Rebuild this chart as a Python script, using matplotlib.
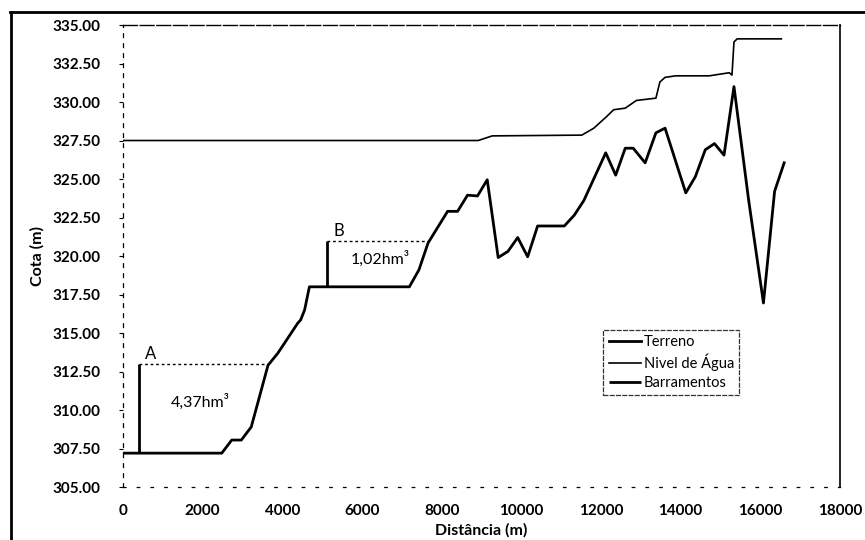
import numpy as np
import matplotlib.pyplot as plt
from matplotlib.lines import Line2D

# perfil longitudinal - terreno
terreno_x = [0, 2480, 2730, 2970, 3220, 3640, 3890, 4390, 4460, 4560, 4680, 7190, 7430, 7660,
             8150, 8400, 8650, 8900, 9145, 9420, 9665, 9910, 10160, 10410, 11080, 11330, 11570,
             12120, 12370, 12610, 12810, 13110, 13380, 13610, 14130, 14370, 14620, 14850, 15090,
             15340, 15710, 16080, 16360, 16600]
terreno_y = [307.2, 307.2, 308.05, 308.05, 308.9, 312.9, 313.7, 315.65, 315.85, 316.5, 318.0, 318.0,
             319.1, 320.85, 322.9, 322.9, 323.95, 323.9, 324.95, 319.9, 320.3, 321.2, 319.95, 321.95,
             321.95, 322.65, 323.6, 326.7, 325.25, 327.0, 327.0, 326.05, 328.0, 328.3, 324.1, 325.15,
             326.9, 327.3, 326.55, 331.0, 323.6, 316.95, 324.2, 326.05]

# nivel de agua
agua_x = [0, 8920, 9270, 11520, 11820, 12120, 12320, 12610, 12890, 13380, 13480, 13610, 13880,
          14720, 15220, 15290, 15340, 15420, 16530]
agua_y = [327.5, 327.5, 327.8, 327.85, 328.3, 329.0, 329.5, 329.6, 330.1, 330.25, 331.3, 331.6,
          331.7, 331.7, 331.9, 331.75, 333.9, 334.1, 334.1]

# barramentos A e B
barr_nome = ['A', 'B']
barr_x = [400, 5130]
barr_base = [307.2, 318.0]
barr_topo = [313.0, 321.0]
barr_fim = [3650, 7680]
barr_vol = ['4,37hm³', '1,02hm³']

xticks = np.arange(0, 18001, 2000)
yticks = np.arange(305, 335.01, 2.5)

plt.rcParams['font.family'] = ['Lato', 'DejaVu Sans']

fig = plt.figure(figsize=(8.65, 5.4), dpi=100)
ax = fig.add_axes([0.1422, 0.0981, 0.971 - 0.1422, 0.9537 - 0.0981])

ax.plot(terreno_x, terreno_y, color='black', lw=2.0, label='Terreno')
ax.plot(agua_x, agua_y, color='black', lw=1.2, label='Nivel de Água')
ax.vlines(barr_x, barr_base, barr_topo, colors='black', lw=2.0, label='Barramentos')

for n, x0, t, x1, v in zip(barr_nome, barr_x, barr_topo, barr_fim, barr_vol):
    ax.plot([x0, x1], [t, t], color='black', lw=1.0, ls=(0, (2, 2)))
    ax.text(x0 + 150, t + 0.1, n, fontsize=12, va='bottom', ha='left')

ax.text(1950, 310.5, barr_vol[0], fontsize=11.5, ha='center', va='center')
ax.text(6450, 319.8, barr_vol[1], fontsize=11.5, ha='center', va='center')

ax.set_xlim(0, 18000)
ax.set_ylim(305, 335)
ax.set_xticks(xticks)
ax.set_yticks(yticks)
ax.set_yticklabels([f'{v:.2f}' for v in yticks])
ax.tick_params(axis='x', length=0, pad=12, labelsize=11)
ax.tick_params(axis='y', length=3, direction='out', pad=13, labelsize=11)
for lab in ax.get_xticklabels() + ax.get_yticklabels():
    lab.set_fontweight('bold')

ax.set_xlabel('Distância (m)', fontsize=11.5, fontweight='bold', labelpad=4)
ax.set_ylabel('Cota (m)', fontsize=11.5, fontweight='bold', labelpad=6)

ax.spines['left'].set_linestyle((0, (3, 5)))
ax.spines['left'].set_linewidth(0.9)
ax.spines['bottom'].set_linestyle((0, (2, 9)))
ax.spines['bottom'].set_linewidth(0.9)
ax.spines['top'].set_linestyle((0, (10, 2)))
ax.spines['top'].set_linewidth(1.0)
ax.spines['right'].set_linewidth(1.2)

leg = ax.legend(loc='upper left', bbox_to_anchor=(0.66, 0.355), fontsize=10.5,
                frameon=True, fancybox=False, edgecolor='black', handlelength=2.2,
                handletextpad=0.2, borderpad=0.35, labelspacing=0.3)
leg.get_frame().set_linewidth(0.9)
leg.get_frame().set_linestyle((0, (4, 1)))

# moldura do grafico (digitalizado)
fig.add_artist(Line2D([0.012, 1.0], [0.978, 0.978], color='black', lw=2.0))
fig.add_artist(Line2D([0.013, 0.013], [0.0, 0.978], color='black', lw=2.0))

fig.savefig('out.png', dpi=100)
